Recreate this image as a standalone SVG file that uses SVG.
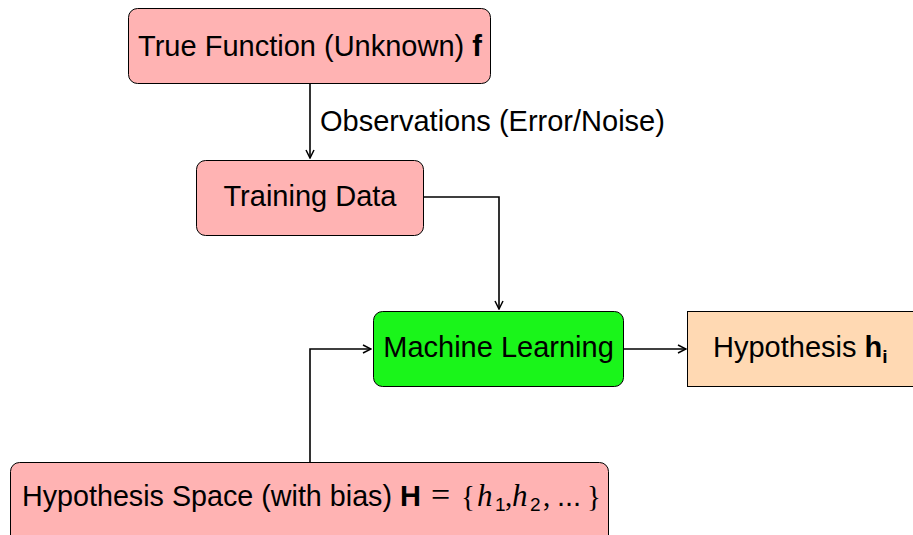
<svg xmlns="http://www.w3.org/2000/svg" width="913" height="535" viewBox="0 0 913 535">
  <defs>
    <marker id="arrow" viewBox="0 0 10 10" refX="9" refY="5" markerWidth="10" markerHeight="10" markerUnits="userSpaceOnUse" orient="auto">
      <path d="M1,1 L9,5 L1,9" fill="none" stroke="#000" stroke-width="1.5"/>
    </marker>
  </defs>
  <style>
    .box { stroke: #000; stroke-width: 1; }
    .pink { fill: #FFB3B3; }
    .green { fill: #1AF51A; }
    .peach { fill: #FFD9B3; }
    .lbl { font-family: "Liberation Sans", Arial, sans-serif; font-size: 29px; fill: #000; }
    .sub { font-size: 19px; }
    .math { font-family: "Liberation Serif", "Times New Roman", serif; }
    .edge { fill: none; stroke: #000; stroke-width: 1.6; }
  </style>

  <g id="edges">
    <path class="edge" d="M310,83 V158" marker-end="url(#arrow)"/>
    <path class="edge" d="M423,197 H499 V309" marker-end="url(#arrow)"/>
    <path class="edge" d="M624,349 H686" marker-end="url(#arrow)"/>
    <path class="edge" d="M310,462 V349 H371" marker-end="url(#arrow)"/>
    <text class="lbl" x="320" y="131">Observations (Error/Noise)</text>
  </g>

  <g id="true-function">
    <rect class="box pink" x="128.5" y="8.5" width="362" height="75" rx="9"/>
    <text class="lbl" x="310" y="56" text-anchor="middle">True Function (Unknown) <tspan font-weight="bold">f</tspan></text>
  </g>

  <g id="training-data">
    <rect class="box pink" x="196.5" y="160.5" width="227" height="75" rx="9"/>
    <text class="lbl" x="310" y="206" text-anchor="middle">Training Data</text>
  </g>

  <g id="machine-learning">
    <rect class="box green" x="373.5" y="311.5" width="250" height="75" rx="9"/>
    <text class="lbl" x="498.5" y="357" text-anchor="middle">Machine Learning</text>
  </g>

  <g id="hypothesis">
    <rect class="box peach" x="687.5" y="311.5" width="240" height="75"/>
    <text class="lbl" x="713" y="357">Hypothesis <tspan font-weight="bold">h</tspan><tspan class="sub" font-weight="bold" dy="6">i</tspan></text>
  </g>

  <g id="hypothesis-space">
    <rect class="box pink" x="10.5" y="462.5" width="598" height="90" rx="9"/>
    <text class="lbl" y="506"><tspan x="22" textLength="370" lengthAdjust="spacingAndGlyphs">Hypothesis Space (with bias)</tspan><tspan x="400" font-weight="bold">H</tspan><tspan class="math" x="431" font-size="34">=</tspan><tspan class="math" x="461">{</tspan><tspan class="math" x="477" font-style="italic" font-size="31">h</tspan><tspan class="sub" x="495" dy="5">1</tspan><tspan class="math" x="505" dy="-5">,</tspan><tspan class="math" x="512" font-style="italic" font-size="31">h</tspan><tspan class="sub" x="530" dy="5">2</tspan><tspan class="math" x="543" dy="-5">,</tspan><tspan x="557">...</tspan><tspan class="math" x="587">}</tspan></text>
  </g>
</svg>
